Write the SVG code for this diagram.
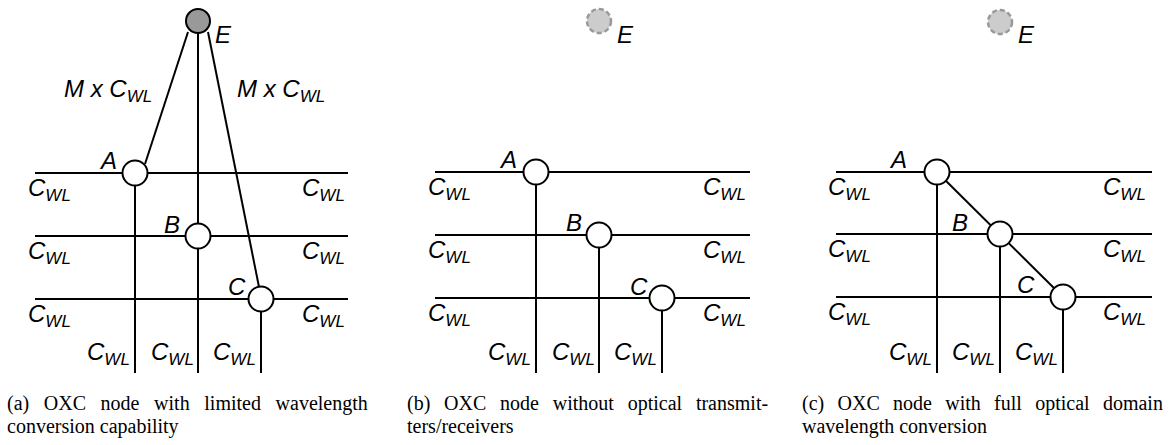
<svg xmlns="http://www.w3.org/2000/svg" width="1175" height="445" viewBox="0 0 1175 445">
<style>
.ln{stroke:#000;stroke-width:2;fill:none}
.nd{fill:#fff;stroke:#000;stroke-width:2}
.lb{font-family:"Liberation Sans",Arial,sans-serif;font-style:italic;font-size:24px;fill:#000}
.sb{font-size:17px}
.cap{font-family:"Liberation Serif","Times New Roman",serif;font-size:20px;fill:#000}
.eg{fill:#999;stroke:#000;stroke-width:2}
.ed{fill:#ccc;stroke:#999;stroke-width:2.5;stroke-dasharray:5 3}
</style>
<rect width="1175" height="445" fill="#fff"/>
<g id="connectors">
<line class="ln" x1="35" y1="173" x2="348" y2="173"/>
<line class="ln" x1="35" y1="236" x2="348" y2="236"/>
<line class="ln" x1="35" y1="299" x2="348" y2="299"/>
<line class="ln" x1="135" y1="173" x2="135" y2="373"/>
<line class="ln" x1="198" y1="21" x2="198" y2="373"/>
<line class="ln" x1="261" y1="299" x2="261" y2="373"/>
<line class="ln" x1="188" y1="32" x2="145" y2="164"/>
<line class="ln" x1="208" y1="32" x2="259" y2="287"/>
<line class="ln" x1="435" y1="172" x2="750" y2="172"/>
<line class="ln" x1="435" y1="235" x2="750" y2="235"/>
<line class="ln" x1="435" y1="298" x2="750" y2="298"/>
<line class="ln" x1="536" y1="172" x2="536" y2="373"/>
<line class="ln" x1="599" y1="235" x2="599" y2="373"/>
<line class="ln" x1="662" y1="298" x2="662" y2="373"/>
<line class="ln" x1="836" y1="172" x2="1152" y2="172"/>
<line class="ln" x1="836" y1="234" x2="1152" y2="234"/>
<line class="ln" x1="836" y1="297" x2="1152" y2="297"/>
<line class="ln" x1="937" y1="172" x2="937" y2="373"/>
<line class="ln" x1="1000" y1="234" x2="1000" y2="373"/>
<line class="ln" x1="1063" y1="297" x2="1063" y2="373"/>
<line class="ln" x1="937" y1="172" x2="1063" y2="297"/>
</g>
<g id="a-E"><circle class="eg" cx="198" cy="21" r="12"/><text class="lb" x="215" y="43">E</text></g>
<g id="a-A"><circle class="nd" cx="135" cy="173" r="12.5"/><text class="lb" x="101" y="169">A</text></g>
<g id="a-B"><circle class="nd" cx="198" cy="236" r="12.5"/><text class="lb" x="164" y="233">B</text></g>
<g id="a-C"><circle class="nd" cx="261" cy="299" r="12.5"/><text class="lb" x="228" y="295">C</text></g>
<g id="b-E"><circle class="ed" cx="599" cy="21" r="12"/><text class="lb" x="617" y="43">E</text></g>
<g id="b-A"><circle class="nd" cx="536" cy="172" r="12.5"/><text class="lb" x="501" y="168">A</text></g>
<g id="b-B"><circle class="nd" cx="599" cy="235" r="12.5"/><text class="lb" x="566" y="231">B</text></g>
<g id="b-C"><circle class="nd" cx="662" cy="298" r="12.5"/><text class="lb" x="630" y="295">C</text></g>
<g id="c-E"><circle class="ed" cx="1000" cy="22" r="12"/><text class="lb" x="1018" y="43">E</text></g>
<g id="c-A"><circle class="nd" cx="937" cy="172" r="12.5"/><text class="lb" x="891" y="168">A</text></g>
<g id="c-B"><circle class="nd" cx="1000" cy="234" r="12.5"/><text class="lb" x="952" y="231">B</text></g>
<g id="c-C"><circle class="nd" cx="1063" cy="297" r="12.5"/><text class="lb" x="1017" y="293">C</text></g>
<g id="labels">
<text class="lb" x="64" y="97">M x C<tspan class="sb" dy="5">WL</tspan></text>
<text class="lb" x="237" y="97">M x C<tspan class="sb" dy="5">WL</tspan></text>
<text class="lb" x="28" y="196">C<tspan class="sb" dy="5">WL</tspan></text>
<text class="lb" x="28" y="259">C<tspan class="sb" dy="5">WL</tspan></text>
<text class="lb" x="28" y="322">C<tspan class="sb" dy="5">WL</tspan></text>
<text class="lb" x="302" y="196">C<tspan class="sb" dy="5">WL</tspan></text>
<text class="lb" x="302" y="259">C<tspan class="sb" dy="5">WL</tspan></text>
<text class="lb" x="302" y="322">C<tspan class="sb" dy="5">WL</tspan></text>
<text class="lb" x="87" y="360">C<tspan class="sb" dy="5">WL</tspan></text>
<text class="lb" x="151" y="360">C<tspan class="sb" dy="5">WL</tspan></text>
<text class="lb" x="213" y="360">C<tspan class="sb" dy="5">WL</tspan></text>
<text class="lb" x="428" y="195">C<tspan class="sb" dy="5">WL</tspan></text>
<text class="lb" x="428" y="258">C<tspan class="sb" dy="5">WL</tspan></text>
<text class="lb" x="428" y="321">C<tspan class="sb" dy="5">WL</tspan></text>
<text class="lb" x="703" y="195">C<tspan class="sb" dy="5">WL</tspan></text>
<text class="lb" x="703" y="258">C<tspan class="sb" dy="5">WL</tspan></text>
<text class="lb" x="703" y="321">C<tspan class="sb" dy="5">WL</tspan></text>
<text class="lb" x="488" y="360">C<tspan class="sb" dy="5">WL</tspan></text>
<text class="lb" x="552" y="360">C<tspan class="sb" dy="5">WL</tspan></text>
<text class="lb" x="614" y="360">C<tspan class="sb" dy="5">WL</tspan></text>
<text class="lb" x="828" y="195">C<tspan class="sb" dy="5">WL</tspan></text>
<text class="lb" x="828" y="257">C<tspan class="sb" dy="5">WL</tspan></text>
<text class="lb" x="828" y="320">C<tspan class="sb" dy="5">WL</tspan></text>
<text class="lb" x="1103" y="195">C<tspan class="sb" dy="5">WL</tspan></text>
<text class="lb" x="1103" y="257">C<tspan class="sb" dy="5">WL</tspan></text>
<text class="lb" x="1103" y="320">C<tspan class="sb" dy="5">WL</tspan></text>
<text class="lb" x="889" y="360">C<tspan class="sb" dy="5">WL</tspan></text>
<text class="lb" x="952" y="360">C<tspan class="sb" dy="5">WL</tspan></text>
<text class="lb" x="1015" y="360">C<tspan class="sb" dy="5">WL</tspan></text>
</g>
<g id="captions">
<text class="cap" y="410"><tspan x="7">(a)</tspan><tspan x="43.8">OXC</tspan><tspan x="100.6">node</tspan><tspan x="154.1">with</tspan><tspan x="204.3">limited</tspan><tspan x="275.6">wavelength</tspan></text>
<text class="cap" x="7" y="433">conversion capability</text>
<text class="cap" y="410"><tspan x="407">(b)</tspan><tspan x="444.1">OXC</tspan><tspan x="500.1">node</tspan><tspan x="552.8">without</tspan><tspan x="627.7">optical</tspan><tspan x="695.9">transmit-</tspan></text>
<text class="cap" x="407" y="433">ters/receivers</text>
<text class="cap" y="410"><tspan x="802">(c)</tspan><tspan x="837.5">OXC</tspan><tspan x="893">node</tspan><tspan x="945.2">with</tspan><tspan x="994.1">full</tspan><tspan x="1035.2">optical</tspan><tspan x="1102.9">domain</tspan></text>
<text class="cap" x="802" y="433">wavelength conversion</text>
</g>
</svg>
